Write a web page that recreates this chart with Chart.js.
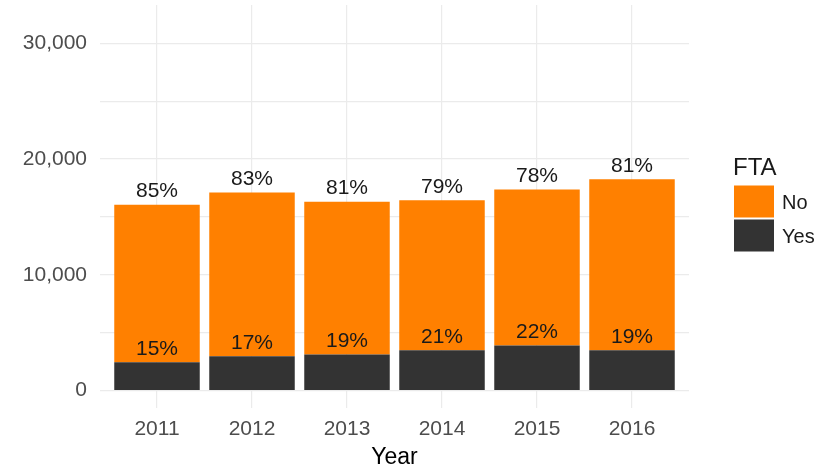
<!DOCTYPE html>
<html>
<head>
<meta charset="utf-8">
<script src="https://cdn.jsdelivr.net/npm/chart.js@4.4.1/dist/chart.umd.min.js"></script>
<style>
  html, body { margin: 0; padding: 0; background: #ffffff; }
  canvas { display: block; }
</style>
</head>
<body>
<canvas id="myChart" width="835" height="468"></canvas>
<script>
// Dataset
const years = ["2011", "2012", "2013", "2014", "2015", "2016"];
const ftaYes = [2450, 2970, 3110, 3490, 3890, 3490];
const ftaNo = [13610, 14130, 13210, 12950, 13470, 14770];
const yesPct = ["15%", "17%", "19%", "21%", "22%", "19%"];
const noPct = ["85%", "83%", "81%", "79%", "78%", "81%"];
const yTicks = [0, 5000, 10000, 15000, 20000, 25000, 30000];

const ORANGE = "#ff8000";
const DARK = "#333333";
const GRID = "#ebebeb";
const FONT = "'Liberation Sans', Arial, sans-serif";

// labels on top of each segment
const pctLabels = {
  id: "pctLabels",
  afterDatasetsDraw(chart) {
    const ctx = chart.ctx;
    ctx.save();
    ctx.font = "21px " + FONT;
    ctx.fillStyle = "#1a1a1a";
    ctx.textAlign = "center";
    ctx.textBaseline = "middle";
    chart.data.datasets.forEach((ds, di) => {
      const meta = chart.getDatasetMeta(di);
      meta.data.forEach((bar, i) => {
        ctx.fillText(ds.pct[i], bar.x, bar.y - 13);
      });
    });
    ctx.restore();
  },
};

// ggplot style legend on the right
const sideLegend = {
  id: "sideLegend",
  afterDraw(chart) {
    const ctx = chart.ctx;
    const area = chart.chartArea;
    const x = area.right + 45;
    const keyW = 40, keyH = 32, gap = 2;
    const items = chart.data.datasets.slice().reverse();
    const total = 26 + items.length * (keyH + gap);
    let y = (area.top + area.bottom) / 2 - total / 2;
    ctx.save();
    ctx.fillStyle = "#1a1a1a";
    ctx.font = "24px " + FONT;
    ctx.textAlign = "left";
    ctx.textBaseline = "middle";
    ctx.fillText("FTA", x - 1, y + 9);
    y += 26;
    ctx.font = "20px " + FONT;
    items.forEach((ds) => {
      ctx.fillStyle = ds.backgroundColor;
      ctx.fillRect(x, y, keyW, keyH);
      ctx.fillStyle = "#1a1a1a";
      ctx.fillText(ds.label, x + keyW + 8, y + keyH / 2 + 2);
      y += keyH + gap;
    });
    ctx.restore();
  },
};

const data = {
  datasets: [
    {
      label: "Yes",
      data: ftaYes.map((v, i) => ({ x: i, y: v })),
      backgroundColor: DARK,
      pct: yesPct,
    },
    {
      label: "No",
      data: ftaNo.map((v, i) => ({ x: i, y: v })),
      backgroundColor: ORANGE,
      pct: noPct,
    },
  ],
};

// Style Configurations
const config = {
  type: "bar",
  data: data,
  options: {
    responsive: false,
    animation: false,
    barPercentage: 0.9,
    categoryPercentage: 1.0,
    layout: { padding: { top: 5, right: 146, left: 0, bottom: 0 } },
    plugins: {
      legend: { display: false },
      tooltip: { enabled: false },
    },
    scales: {
      x: {
        type: "linear",
        stacked: true,
        offset: false,
        min: -0.6,
        max: 5.6,
        afterBuildTicks: (s) => { s.ticks = years.map((_, i) => ({ value: i })); },
        afterFit: (s) => { s.height = 60; s.paddingLeft = 0; s.paddingRight = 0; },
        ticks: {
          callback: (v) => years[v],
          color: "#4d4d4d",
          font: { family: FONT, size: 21 },
          padding: 9,
          maxRotation: 0,
        },
        grid: { color: GRID, drawTicks: false, lineWidth: 1.2, offset: false },
        border: { display: false },
        title: {
          display: true,
          text: "Year",
          color: "#000000",
          font: { family: FONT, size: 23 },
          padding: { top: 0, bottom: -3 },
        },
      },
      y: {
        stacked: true,
        min: -1500,
        max: 33300,
        afterBuildTicks: (s) => { s.ticks = yTicks.map((v) => ({ value: v })); },
        afterFit: (s) => { s.width = 100; s.paddingTop = 0; s.paddingBottom = 0; },
        ticks: {
          callback: (v) => (v % 10000 === 0 ? v.toLocaleString("en-US") : ""),
          color: "#4d4d4d",
          font: { family: FONT, size: 21 },
          padding: 13,
        },
        grid: { color: GRID, drawTicks: false, lineWidth: 1.2 },
        border: { display: false },
      },
    },
  },
  plugins: [pctLabels, sideLegend],
};

// Plotting
let myChart = document.getElementById("myChart").getContext("2d");
let stackedChart = new Chart(myChart, config);
</script>
</body>
</html>
